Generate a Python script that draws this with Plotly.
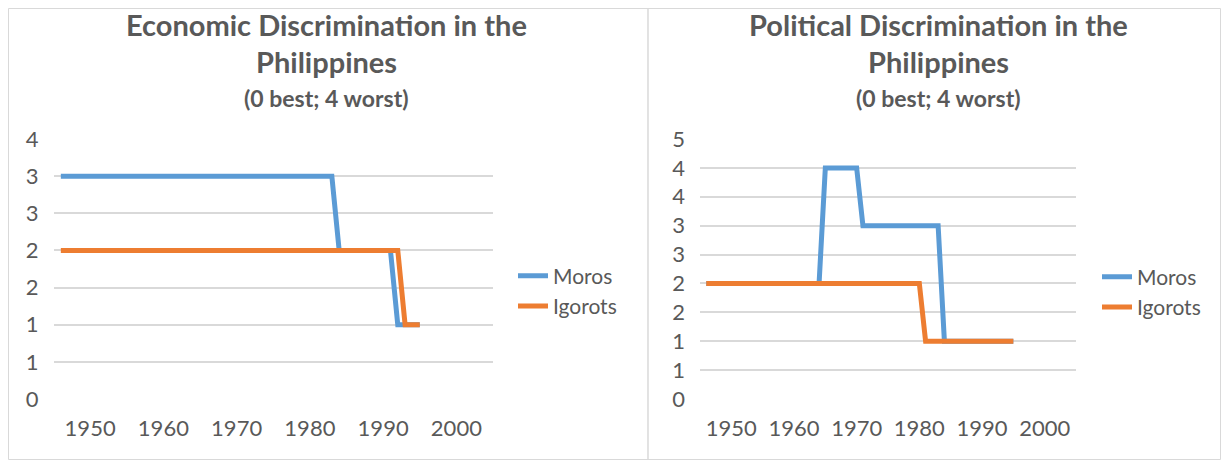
import plotly.graph_objects as go

# years covered by both charts
years = [
    1946, 1947, 1948, 1949, 1950, 1951, 1952, 1953, 1954, 1955,
    1956, 1957, 1958, 1959, 1960, 1961, 1962, 1963, 1964, 1965,
    1966, 1967, 1968, 1969, 1970, 1971, 1972, 1973, 1974, 1975,
    1976, 1977, 1978, 1979, 1980, 1981, 1982, 1983, 1984, 1985,
    1986, 1987, 1988, 1989, 1990, 1991, 1992, 1993, 1994, 1995,
]

# economic discrimination scores
econ_moros = [
    3, 3, 3, 3, 3, 3, 3, 3, 3, 3,
    3, 3, 3, 3, 3, 3, 3, 3, 3, 3,
    3, 3, 3, 3, 3, 3, 3, 3, 3, 3,
    3, 3, 3, 3, 3, 3, 3, 3, 2, 2,
    2, 2, 2, 2, 2, 2, 1, 1, 1, 1,
]
econ_igorots = [
    2, 2, 2, 2, 2, 2, 2, 2, 2, 2,
    2, 2, 2, 2, 2, 2, 2, 2, 2, 2,
    2, 2, 2, 2, 2, 2, 2, 2, 2, 2,
    2, 2, 2, 2, 2, 2, 2, 2, 2, 2,
    2, 2, 2, 2, 2, 2, 2, 1, 1, 1,
]

# political discrimination scores
pol_moros = [
    2, 2, 2, 2, 2, 2, 2, 2, 2, 2,
    2, 2, 2, 2, 2, 2, 2, 2, 2, 4,
    4, 4, 4, 4, 4, 3, 3, 3, 3, 3,
    3, 3, 3, 3, 3, 3, 3, 3, 1, 1,
    1, 1, 1, 1, 1, 1, 1, 1, 1, 1,
]
pol_igorots = [
    2, 2, 2, 2, 2, 2, 2, 2, 2, 2,
    2, 2, 2, 2, 2, 2, 2, 2, 2, 2,
    2, 2, 2, 2, 2, 2, 2, 2, 2, 2,
    2, 2, 2, 2, 2, 1, 1, 1, 1, 1,
    1, 1, 1, 1, 1, 1, 1, 1, 1, 1,
]

x_ticks = [1950, 1960, 1970, 1980, 1990, 2000]
econ_yticks = [0, 0.5, 1, 1.5, 2, 2.5, 3, 3.5]
econ_ylabels = ["0", "1", "1", "2", "2", "3", "3", "4"]
pol_yticks = [0, 0.5, 1, 1.5, 2, 2.5, 3, 3.5, 4, 4.5]
pol_ylabels = ["0", "1", "1", "2", "2", "3", "3", "4", "4", "5"]

BLUE = "#5B9BD5"
ORANGE = "#ED7D31"
TEXT = "#595959"
GRID = "#D9D9D9"
FONT = "Lato"

# the page body keeps its 8px margin, so the figure is sized to fit inside it
W, H = 1213, 452
OFF = 8


def px(x):
    return (x - OFF) / W


def py(y):
    return 1 - (y - OFF) / H


fig = go.Figure()

fig.add_trace(go.Scatter(x=years, y=econ_moros, name="Moros", mode="lines",
                         line=dict(color=BLUE, width=5), xaxis="x", yaxis="y",
                         legend="legend"))
fig.add_trace(go.Scatter(x=years, y=econ_igorots, name="Igorots", mode="lines",
                         line=dict(color=ORANGE, width=5), xaxis="x", yaxis="y",
                         legend="legend"))
fig.add_trace(go.Scatter(x=years, y=pol_moros, name="Moros", mode="lines",
                         line=dict(color=BLUE, width=5), xaxis="x2", yaxis="y2",
                         legend="legend2"))
fig.add_trace(go.Scatter(x=years, y=pol_igorots, name="Igorots", mode="lines",
                         line=dict(color=ORANGE, width=5), xaxis="x2", yaxis="y2",
                         legend="legend2"))

y_dom = [py(399), py(139)]

xaxis_common = dict(range=[1945, 2005], tickvals=x_ticks, showgrid=False,
                    zeroline=False, showline=False, ticks="", automargin=False,
                    tickfont=dict(family=FONT, size=22, color=TEXT),
                    ticklabelstandoff=14, fixedrange=True)
yaxis_common = dict(showgrid=True, gridcolor=GRID, gridwidth=1.5,
                    zeroline=False, showline=False, ticks="", automargin=False,
                    tickfont=dict(family=FONT, size=22, color=TEXT),
                    ticklabelstandoff=14, fixedrange=True)
legend_common = dict(xanchor="left", yanchor="middle",
                     font=dict(family=FONT, size=21, color=TEXT),
                     bgcolor="rgba(0,0,0,0)", tracegroupgap=0)

fig.update_layout(
    width=W, height=H,
    margin=dict(l=0, r=0, t=0, b=0, autoexpand=False),
    paper_bgcolor="white", plot_bgcolor="white",
    xaxis=dict(domain=[px(53.5), px(493)], anchor="y", **xaxis_common),
    yaxis=dict(domain=y_dom, anchor="x", range=[0, 3.5],
               tickvals=econ_yticks, ticktext=econ_ylabels, **yaxis_common),
    xaxis2=dict(domain=[px(700), px(1076)], anchor="y2", **xaxis_common),
    yaxis2=dict(domain=y_dom, anchor="x2", range=[0, 4.5],
                tickvals=pol_yticks, ticktext=pol_ylabels, **yaxis_common),
    legend=dict(x=px(513), y=py(291), **legend_common),
    legend2=dict(x=px(1097), y=py(292), **legend_common),
    showlegend=True,
)

# chart frames
frame = dict(type="rect", xref="paper", yref="paper",
             line=dict(color=GRID, width=1), layer="below")
fig.add_shape(x0=0.5 / W, x1=px(648), y0=0.5 / H, y1=1 - 0.5 / H, **frame)
fig.add_shape(x0=px(648), x1=1 - 0.5 / W, y0=0.5 / H, y1=1 - 0.5 / H, **frame)

# titles
titles = [
    (326, "Economic Discrimination in the"),
    (938, "Political Discrimination in the"),
]
for cx, line1 in titles:
    for text, ty, size in [(line1, 24, 29), ("Philippines", 61, 29),
                           ("(0 best; 4 worst)", 98, 23)]:
        fig.add_annotation(x=px(cx), y=py(ty), xref="paper", yref="paper",
                           xanchor="center", yanchor="middle",
                           text="<b>" + text + "</b>", showarrow=False,
                           font=dict(family=FONT, size=size, color=TEXT))

fig.write_html("out.html")
